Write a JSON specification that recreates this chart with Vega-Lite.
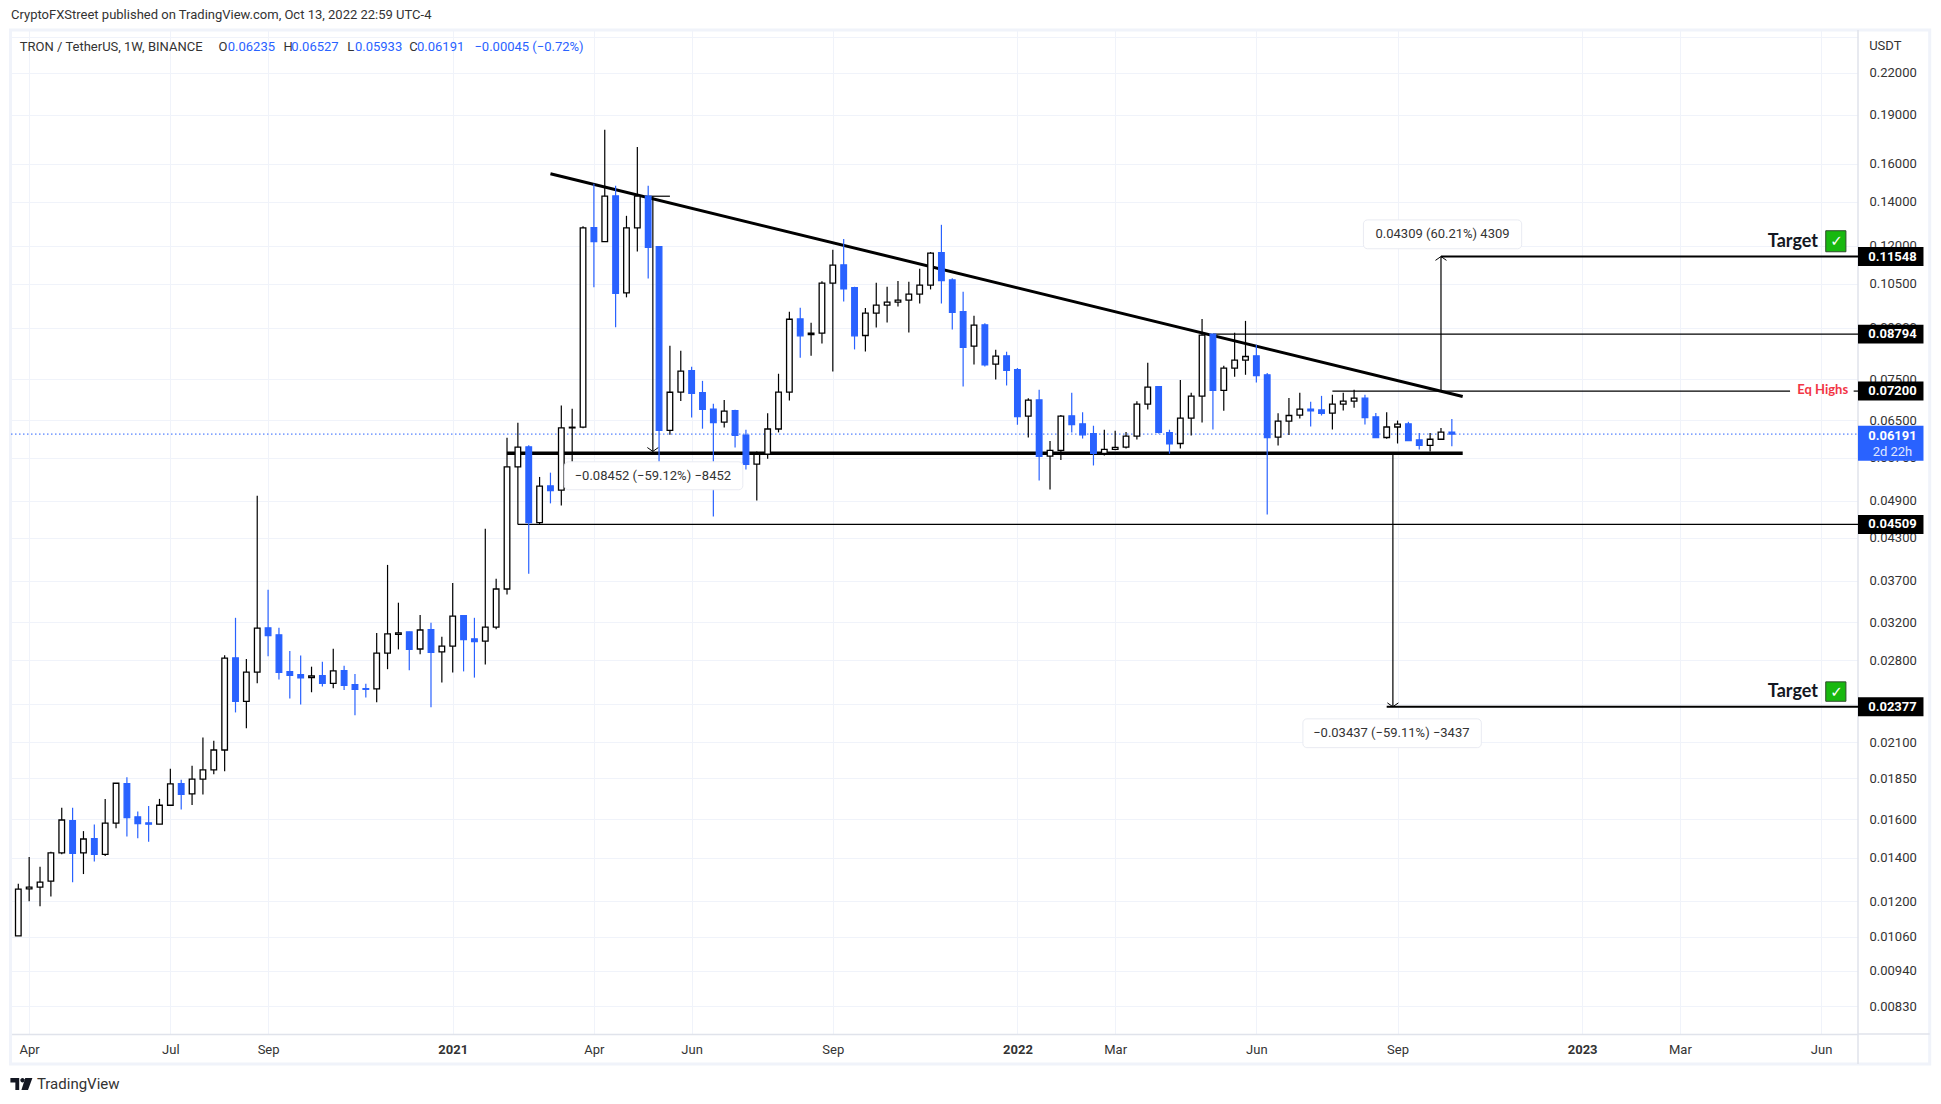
{"$schema":"https://vega.github.io/schema/vega-lite/v6.json","width":1847,"height":1004,"autosize":{"type":"none"},"padding":{"left":11,"top":30,"right":83,"bottom":70},"background":"#ffffff","config":{"view":{"stroke":null},"font":"Roboto"},
"title":{"text":"CryptoFXStreet published on TradingView.com, Oct 13, 2022 22:59 UTC-4","anchor":"start","frame":"group","offset":7,"fontSize":13,"fontWeight":"normal","font":"Roboto","color":"#333333"},
"datasets":{"candles":[
{"x":"2020-03-30","o":0.01063,"h":0.01277,"l":0.01063,"c":0.01253},{"x":"2020-04-06","o":0.01254,"h":0.01403,"l":0.01201,"c":0.01262},{"x":"2020-04-13","o":0.01262,"h":0.01355,"l":0.0118,"c":0.01284},{"x":"2020-04-20","o":0.01289,"h":0.01429,"l":0.01221,"c":0.01423},{"x":"2020-04-27","o":0.01423,"h":0.01668,"l":0.01416,"c":0.01597},{"x":"2020-05-04","o":0.01593,"h":0.01668,"l":0.01283,"c":0.01421},{"x":"2020-05-11","o":0.01423,"h":0.01536,"l":0.01321,"c":0.01494},{"x":"2020-05-18","o":0.01496,"h":0.01572,"l":0.01381,"c":0.01416},{"x":"2020-05-25","o":0.01416,"h":0.0172,"l":0.01407,"c":0.0158},{"x":"2020-06-01","o":0.0158,"h":0.01817,"l":0.01552,"c":0.01817},{"x":"2020-06-08","o":0.01815,"h":0.01856,"l":0.01507,"c":0.01611},{"x":"2020-06-15","o":0.01615,"h":0.01645,"l":0.01498,"c":0.01577},{"x":"2020-06-22","o":0.01581,"h":0.01678,"l":0.0148,"c":0.01574},{"x":"2020-06-29","o":0.01574,"h":0.0172,"l":0.01574,"c":0.01682},{"x":"2020-07-06","o":0.01682,"h":0.01912,"l":0.01682,"c":0.01813},{"x":"2020-07-13","o":0.01815,"h":0.0184,"l":0.01657,"c":0.01747},{"x":"2020-07-20","o":0.0175,"h":0.01933,"l":0.01684,"c":0.01844},{"x":"2020-07-27","o":0.01844,"h":0.02133,"l":0.01747,"c":0.01905},{"x":"2020-08-03","o":0.01905,"h":0.02109,"l":0.01876,"c":0.02042},{"x":"2020-08-10","o":0.02042,"h":0.02848,"l":0.01895,"c":0.02819},{"x":"2020-08-17","o":0.02822,"h":0.03248,"l":0.0233,"c":0.02423},{"x":"2020-08-24","o":0.02423,"h":0.0281,"l":0.02205,"c":0.02684},{"x":"2020-08-31","o":0.02684,"h":0.04985,"l":0.02581,"c":0.03132},{"x":"2020-09-07","o":0.03136,"h":0.03585,"l":0.02838,"c":0.03052},{"x":"2020-09-14","o":0.0306,"h":0.03136,"l":0.02616,"c":0.02681},{"x":"2020-09-21","o":0.02688,"h":0.02892,"l":0.02447,"c":0.02654},{"x":"2020-09-28","o":0.0266,"h":0.02845,"l":0.02395,"c":0.0263},{"x":"2020-10-05","o":0.02633,"h":0.02736,"l":0.02501,"c":0.02648},{"x":"2020-10-12","o":0.0265,"h":0.02784,"l":0.02552,"c":0.02581},{"x":"2020-10-19","o":0.02581,"h":0.02914,"l":0.02536,"c":0.02695},{"x":"2020-10-26","o":0.02698,"h":0.02746,"l":0.0252,"c":0.02562},{"x":"2020-11-02","o":0.02568,"h":0.02667,"l":0.02307,"c":0.02527},{"x":"2020-11-09","o":0.02533,"h":0.02577,"l":0.02456,"c":0.02527},{"x":"2020-11-16","o":0.0253,"h":0.0308,"l":0.02414,"c":0.0287},{"x":"2020-11-23","o":0.0287,"h":0.03911,"l":0.02712,"c":0.0307},{"x":"2020-11-30","o":0.03065,"h":0.03425,"l":0.02907,"c":0.0308},{"x":"2020-12-07","o":0.03092,"h":0.03092,"l":0.02701,"c":0.02907},{"x":"2020-12-14","o":0.02911,"h":0.03281,"l":0.02857,"c":0.03112},{"x":"2020-12-21","o":0.03116,"h":0.03191,"l":0.02372,"c":0.02877},{"x":"2020-12-28","o":0.02881,"h":0.03038,"l":0.02587,"c":0.0294},{"x":"2021-01-04","o":0.0294,"h":0.0367,"l":0.02681,"c":0.03268},{"x":"2021-01-11","o":0.03273,"h":0.03273,"l":0.02691,"c":0.0301},{"x":"2021-01-18","o":0.03017,"h":0.03248,"l":0.02633,"c":0.02987},{"x":"2021-01-25","o":0.02992,"h":0.04441,"l":0.02757,"c":0.03144},{"x":"2021-02-01","o":0.03144,"h":0.03727,"l":0.0312,"c":0.03594},{"x":"2021-02-08","o":0.03594,"h":0.06112,"l":0.03526,"c":0.05519},{"x":"2021-02-15","o":0.05519,"h":0.06443,"l":0.04509,"c":0.05912},{"x":"2021-02-22","o":0.0592,"h":0.05955,"l":0.03792,"c":0.04536},{"x":"2021-03-01","o":0.04536,"h":0.05326,"l":0.04503,"c":0.05156},{"x":"2021-03-08","o":0.05162,"h":0.05407,"l":0.04854,"c":0.05079},{"x":"2021-03-15","o":0.05085,"h":0.06845,"l":0.04819,"c":0.06327},{"x":"2021-03-22","o":0.06327,"h":0.06769,"l":0.05271,"c":0.06342},{"x":"2021-03-29","o":0.06342,"h":0.12846,"l":0.06318,"c":0.12766},{"x":"2021-04-05","o":0.12779,"h":0.14911,"l":0.10367,"c":0.12166},{"x":"2021-04-12","o":0.12166,"h":0.18022,"l":0.12166,"c":0.14271},{"x":"2021-04-19","o":0.14287,"h":0.14804,"l":0.09009,"c":0.10147},{"x":"2021-04-26","o":0.10162,"h":0.13322,"l":0.10006,"c":0.12766},{"x":"2021-05-03","o":0.12766,"h":0.1697,"l":0.11751,"c":0.14271},{"x":"2021-05-10","o":0.14271,"h":0.14804,"l":0.10687,"c":0.1193},{"x":"2021-05-17","o":0.11959,"h":0.11975,"l":0.05367,"c":0.06272},{"x":"2021-05-24","o":0.06272,"h":0.08442,"l":0.06176,"c":0.0717},{"x":"2021-05-31","o":0.07175,"h":0.08296,"l":0.06956,"c":0.07725},{"x":"2021-06-07","o":0.07733,"h":0.07842,"l":0.06561,"c":0.0714},{"x":"2021-06-14","o":0.07158,"h":0.07463,"l":0.06309,"c":0.0675},{"x":"2021-06-21","o":0.0676,"h":0.06885,"l":0.04635,"c":0.06448},{"x":"2021-06-28","o":0.06456,"h":0.0698,"l":0.06338,"c":0.06713},{"x":"2021-07-05","o":0.0672,"h":0.06744,"l":0.05908,"c":0.06161},{"x":"2021-07-12","o":0.06169,"h":0.06287,"l":0.05469,"c":0.05565},{"x":"2021-07-19","o":0.05572,"h":0.05826,"l":0.04902,"c":0.05764},{"x":"2021-07-26","o":0.05772,"h":0.06661,"l":0.05675,"c":0.06302},{"x":"2021-08-02","o":0.06302,"h":0.07652,"l":0.06228,"c":0.07175},{"x":"2021-08-09","o":0.07175,"h":0.09513,"l":0.06963,"c":0.09266},{"x":"2021-08-16","o":0.09275,"h":0.09647,"l":0.08096,"c":0.08742},{"x":"2021-08-23","o":0.08782,"h":0.0915,"l":0.0815,"c":0.08826},{"x":"2021-08-30","o":0.08826,"h":0.1059,"l":0.08509,"c":0.10518},{"x":"2021-09-06","o":0.10518,"h":0.11826,"l":0.07714,"c":0.11206},{"x":"2021-09-13","o":0.11217,"h":0.12286,"l":0.09859,"c":0.10313},{"x":"2021-09-20","o":0.10349,"h":0.10385,"l":0.08334,"c":0.08742},{"x":"2021-09-27","o":0.08751,"h":0.09637,"l":0.08275,"c":0.09469},{"x":"2021-10-04","o":0.09469,"h":0.10529,"l":0.09003,"c":0.09738},{"x":"2021-10-11","o":0.09738,"h":0.10385,"l":0.09159,"c":0.09839},{"x":"2021-10-18","o":0.09839,"h":0.10601,"l":0.09691,"c":0.09906},{"x":"2021-10-25","o":0.09906,"h":0.10565,"l":0.08846,"c":0.10122},{"x":"2021-11-01","o":0.10122,"h":0.11063,"l":0.09792,"c":0.10446},{"x":"2021-11-08","o":0.10446,"h":0.11731,"l":0.10288,"c":0.11689},{"x":"2021-11-15","o":0.11702,"h":0.12908,"l":0.09792,"c":0.10612},{"x":"2021-11-22","o":0.10637,"h":0.10703,"l":0.0894,"c":0.09489},{"x":"2021-11-29","o":0.09513,"h":0.10205,"l":0.07318,"c":0.08392},{"x":"2021-12-06","o":0.08433,"h":0.09378,"l":0.07905,"c":0.09078},{"x":"2021-12-13","o":0.09087,"h":0.0914,"l":0.07851,"c":0.07897},{"x":"2021-12-20","o":0.07916,"h":0.08325,"l":0.07496,"c":0.08141},{"x":"2021-12-27","o":0.0815,"h":0.08267,"l":0.07343,"c":0.07741},{"x":"2022-01-03","o":0.07761,"h":0.07807,"l":0.06397,"c":0.06585},{"x":"2022-01-10","o":0.06594,"h":0.07023,"l":0.06117,"c":0.06973},{"x":"2022-01-17","o":0.0698,"h":0.07234,"l":0.05259,"c":0.05723},{"x":"2022-01-24","o":0.05731,"h":0.06045,"l":0.05097,"c":0.05847},{"x":"2022-01-31","o":0.05847,"h":0.06618,"l":0.05655,"c":0.06594},{"x":"2022-02-07","o":0.06601,"h":0.07158,"l":0.06228,"c":0.06403},{"x":"2022-02-14","o":0.06419,"h":0.06684,"l":0.06095,"c":0.06176},{"x":"2022-02-21","o":0.06198,"h":0.06375,"l":0.05545,"c":0.05784},{"x":"2022-02-28","o":0.05784,"h":0.06287,"l":0.05743,"c":0.05867},{"x":"2022-03-07","o":0.05867,"h":0.06265,"l":0.05847,"c":0.05908},{"x":"2022-03-14","o":0.05916,"h":0.06236,"l":0.05888,"c":0.06147},{"x":"2022-03-21","o":0.06147,"h":0.06949,"l":0.06073,"c":0.06878},{"x":"2022-03-28","o":0.06878,"h":0.07951,"l":0.0675,"c":0.07303},{"x":"2022-04-04","o":0.0731,"h":0.0731,"l":0.06206,"c":0.06228},{"x":"2022-04-11","o":0.06221,"h":0.06287,"l":0.05778,"c":0.05984},{"x":"2022-04-18","o":0.0599,"h":0.07488,"l":0.05888,"c":0.06547},{"x":"2022-04-25","o":0.06547,"h":0.07158,"l":0.06161,"c":0.07074},{"x":"2022-05-02","o":0.07074,"h":0.09275,"l":0.06448,"c":0.08764},{"x":"2022-05-09","o":0.08794,"h":0.08803,"l":0.06293,"c":0.07216},{"x":"2022-05-16","o":0.07216,"h":0.07869,"l":0.0672,"c":0.07807},{"x":"2022-05-23","o":0.07807,"h":0.08837,"l":0.07572,"c":0.08025},{"x":"2022-05-30","o":0.08025,"h":0.09212,"l":0.07624,"c":0.0813},{"x":"2022-06-06","o":0.0815,"h":0.08471,"l":0.07419,"c":0.07605},{"x":"2022-06-13","o":0.07624,"h":0.0767,"l":0.0467,"c":0.06117},{"x":"2022-06-20","o":0.06126,"h":0.06661,"l":0.05949,"c":0.06478},{"x":"2022-06-27","o":0.06478,"h":0.0703,"l":0.06169,"c":0.06609},{"x":"2022-07-04","o":0.06618,"h":0.07158,"l":0.06538,"c":0.0676},{"x":"2022-07-11","o":0.0676,"h":0.06933,"l":0.0636,"c":0.0672},{"x":"2022-07-18","o":0.06737,"h":0.0708,"l":0.06609,"c":0.06656},{"x":"2022-07-25","o":0.06665,"h":0.0711,"l":0.06293,"c":0.06878},{"x":"2022-08-01","o":0.06878,"h":0.07158,"l":0.06727,"c":0.06949},{"x":"2022-08-08","o":0.06949,"h":0.07234,"l":0.06791,"c":0.07023},{"x":"2022-08-15","o":0.07023,"h":0.07108,"l":0.06403,"c":0.06561},{"x":"2022-08-22","o":0.06578,"h":0.06665,"l":0.0611,"c":0.06117},{"x":"2022-08-29","o":0.06117,"h":0.06684,"l":0.06088,"c":0.06347},{"x":"2022-09-05","o":0.06347,"h":0.06492,"l":0.0599,"c":0.06412},{"x":"2022-09-12","o":0.06419,"h":0.06463,"l":0.06045,"c":0.06052},{"x":"2022-09-19","o":0.06066,"h":0.06213,"l":0.05867,"c":0.05949},{"x":"2022-09-26","o":0.05949,"h":0.06213,"l":0.05826,"c":0.0608},{"x":"2022-10-03","o":0.0608,"h":0.06323,"l":0.0608,"c":0.06235},{"x":"2022-10-10","o":0.06235,"h":0.06527,"l":0.05933,"c":0.06191}
]},
"encoding":{
"x":{"field":"x","type":"temporal","title":null,"scale":{"type":"utc","padding":0,"domain":["2020-03-25T07:00:00Z","2023-06-28T19:00:00Z"]},"axis":{"values":["2020-04-06","2020-07-06","2020-09-07","2021-01-04","2021-04-05","2021-06-07","2021-09-06","2022-01-03","2022-03-07","2022-06-06","2022-09-05","2023-01-02","2023-03-06","2023-06-05"],"labelExpr":"utcmonth(datum.value)==0?utcFormat(datum.value,'%Y'):utcFormat(datum.value,'%b')","grid":true,"gridColor":"#f0f3fa","gridWidth":1,"domainColor":"#e0e3eb","domainWidth":1.5,"tickSize":0,"labelPadding":9,"labelFontSize":13,"labelFont":"Roboto","labelColor":"#333333","labelFontWeight":{"condition":{"test":"utcmonth(datum.value)==0","value":"bold"},"value":"normal"},"labelOverlap":false,"labelFlush":false,"zindex":0}},
"y":{"field":"p","type":"quantitative","title":null,"scale":{"type":"log","domain":[0.007534,0.2558],"nice":false},"axis":{"orient":"right","values":[0.25,0.22,0.19,0.16,0.14,0.12,0.105,0.09,0.075,0.065,0.057,0.049,0.043,0.037,0.032,0.028,0.024,0.021,0.0185,0.016,0.014,0.012,0.0106,0.0094,0.0083],"labelExpr":"datum.value==0.25?'':format(datum.value,'.5f')","grid":true,"gridColor":"#f0f3fa","gridWidth":1,"domain":false,"tickSize":0,"labelPadding":11,"labelFontSize":13,"labelFont":"Roboto","labelColor":"#333333","labelOverlap":false,"labelBound":false,"zindex":0}}
},
"layer":[
{"data":{"values":[{"x":"2020-03-25","x2":"2023-08-14","p":0.2558,"p2":0.00678}],"format":{"parse":{"x":"date","x2":"date"}}},"mark":{"type":"rect","fill":"transparent","stroke":"#f0f3fa","strokeWidth":3},"encoding":{"x2":{"field":"x2"},"y2":{"field":"p2"}}},
{"data":{"values":[{"x":"2023-06-28T19:00:00Z","p":0.2558,"p2":0.00678}],"format":{"parse":{"x":"date"}}},"mark":{"type":"rule","stroke":"#e0e3eb","strokeWidth":1.5},"encoding":{"y2":{"field":"p2"}}},
{"data":{"values":[{"x":"2023-06-28T19:00:00Z","x2":"2023-08-14","p":0.007534}],"format":{"parse":{"x":"date","x2":"date"}}},"mark":{"type":"rule","stroke":"#e0e3eb","strokeWidth":1.5},"encoding":{"x2":{"field":"x2"}}},
{"data":{"values":[{"x":"2020-03-25T07:00:00Z","x2":"2023-06-28T19:00:00Z","p":0.06191}],"format":{"parse":{"x":"date","x2":"date"}}},"mark":{"type":"rule","stroke":"#2962ff","strokeWidth":1,"strokeDash":[1.5,2.5]},"encoding":{"x2":{"field":"x2"}}},
{"data":{"values":[{"x":"2021-03-08","x2":"2022-10-17","p":0.1544,"p2":0.07064}],"format":{"parse":{"x":"date","x2":"date"}}},"mark":{"type":"rule","stroke":"#000000","strokeWidth":3},"encoding":{"x2":{"field":"x2"},"y2":{"field":"p2"}}},
{"data":{"values":[{"x":"2021-02-08","x2":"2022-10-17","p":0.05789}],"format":{"parse":{"x":"date","x2":"date"}}},"mark":{"type":"rule","stroke":"#000000","strokeWidth":3.4},"encoding":{"x2":{"field":"x2"}}},
{"data":{"values":[{"x":"2022-10-03","x2":"2023-06-28T19:00:00Z","p":0.11548},{"x":"2022-08-29","x2":"2023-06-28T19:00:00Z","p":0.02377}],"format":{"parse":{"x":"date","x2":"date"}}},"mark":{"type":"rule","stroke":"#000000","strokeWidth":2.2},"encoding":{"x2":{"field":"x2"}}},
{"data":{"values":[{"x":"2021-02-15","x2":"2023-06-28T19:00:00Z","p":0.04509},{"x":"2022-05-09","x2":"2023-06-28T19:00:00Z","p":0.08794},{"x":"2022-07-25","x2":"2023-05-16","p":0.072},{"x":"2023-06-26","x2":"2023-06-28T19:00:00Z","p":0.072},{"x":"2021-05-08","x2":"2021-05-24","p":0.14271}],"format":{"parse":{"x":"date","x2":"date"}}},"mark":{"type":"rule","stroke":"#000000","strokeWidth":1.2},"encoding":{"x2":{"field":"x2"}}},
{"data":{"values":[{"x":"2021-05-13","p":0.14271,"p2":0.05826},{"x":"2022-10-03","p":0.072,"p2":0.11548},{"x":"2022-09-02","p":0.05789,"p2":0.02377}],"format":{"parse":{"x":"date"}}},"mark":{"type":"rule","stroke":"#000000","strokeWidth":1.2},"encoding":{"y2":{"field":"p2"}}},
{"data":{"values":[{"x":"2021-05-13","p":0.05826},{"x":"2022-09-02","p":0.02377}],"format":{"parse":{"x":"date"}}},"mark":{"type":"point","shape":"M-1,-0.7L0,0L1,-0.7","filled":false,"stroke":"#000000","strokeWidth":1,"size":121,"opacity":1}},
{"data":{"values":[{"x":"2022-10-03","p":0.11548}],"format":{"parse":{"x":"date"}}},"mark":{"type":"point","shape":"M-1,0.7L0,0L1,0.7","filled":false,"stroke":"#000000","strokeWidth":1,"size":121,"opacity":1}},
{"data":{"name":"candles"},"mark":{"type":"rule","strokeWidth":1.2},"encoding":{"y":{"field":"l","type":"quantitative","title":null},"y2":{"field":"h"},"color":{"condition":{"test":"datum.c>=datum.o","value":"#000000"},"value":"#2962ff"}}},
{"data":{"name":"candles"},"mark":{"type":"bar","size":5.6,"strokeWidth":1.3},"encoding":{"y":{"field":"o","type":"quantitative","title":null},"y2":{"field":"c"},"fill":{"condition":{"test":"datum.c>=datum.o","value":"#ffffff"},"value":"#2962ff"},"stroke":{"condition":{"test":"datum.c>=datum.o","value":"#000000"},"value":"#2962ff"}}},
{"data":{"values":[{"x":"2022-08-14","x2":"2022-11-24","p":0.13131,"p2":0.11867},{"x":"2021-03-17","x2":"2021-07-10","p":0.05617,"p2":0.05092},{"x":"2022-07-06","x2":"2022-10-29","p":0.02278,"p2":0.02059}],"format":{"parse":{"x":"date","x2":"date"}}},"mark":{"type":"rect","fill":"#ffffff","stroke":"#e9ebf2","strokeWidth":1,"cornerRadius":4},"encoding":{"x2":{"field":"x2"},"y2":{"field":"p2"}}},
{"data":{"values":[{"x":"2022-10-04","p":0.12508,"t":"0.04309 (60.21%) 4309"},{"x":"2021-05-13","p":0.05348,"t":"−0.08452 (−59.12%) −8452"},{"x":"2022-09-01","p":0.02166,"t":"−0.03437 (−59.11%) −3437"}]},"mark":{"type":"text","font":"Roboto","fontSize":13,"color":"#333333","align":"center","baseline":"middle"},"encoding":{"text":{"field":"t"}}},
{"data":{"values":[{"x":"2023-06-28T19:00:00Z","x2":"2023-08-10","p":0.1194,"p2":0.11169},{"x":"2023-06-28T19:00:00Z","x2":"2023-08-10","p":0.09092,"p2":0.08506},{"x":"2023-06-28T19:00:00Z","x2":"2023-08-10","p":0.07444,"p2":0.06964},{"x":"2023-06-28T19:00:00Z","x2":"2023-08-10","p":0.04662,"p2":0.04361},{"x":"2023-06-28T19:00:00Z","x2":"2023-08-10","p":0.02458,"p2":0.02299}],"format":{"parse":{"x":"date","x2":"date"}}},"mark":{"type":"rect","fill":"#000000"},"encoding":{"x2":{"field":"x2"},"y2":{"field":"p2"}}},
{"data":{"values":[{"x":"2023-06-28T19:00:00Z","x2":"2023-08-10","p":0.06375,"p2":0.05636}],"format":{"parse":{"x":"date","x2":"date"}}},"mark":{"type":"rect","fill":"#2962ff"},"encoding":{"x2":{"field":"x2"},"y2":{"field":"p2"}}},
{"data":{"values":[{"x":"2023-07-21","p":0.11548,"t":"0.11548"},{"x":"2023-07-21","p":0.08794,"t":"0.08794"},{"x":"2023-07-21","p":0.072,"t":"0.07200"},{"x":"2023-07-21","p":0.04509,"t":"0.04509"},{"x":"2023-07-21","p":0.02377,"t":"0.02377"},{"x":"2023-07-21","p":0.06146,"t":"0.06191"}]},"mark":{"type":"text","font":"Roboto","fontSize":13,"fontWeight":"bold","color":"#ffffff","align":"center","baseline":"middle"},"encoding":{"text":{"field":"t"}}},
{"data":{"values":[{"x":"2023-07-21","p":0.05809,"t":"2d 22h"}]},"mark":{"type":"text","font":"Roboto","fontSize":13,"color":"#ffffff","opacity":0.85,"align":"center","baseline":"middle"},"encoding":{"text":{"field":"t"}}},
{"data":{"values":[{"x":"2023-07-06","p":0.2419,"t":"USDT"}]},"mark":{"type":"text","font":"Roboto","fontSize":13,"color":"#333333","align":"left","baseline":"middle"},"encoding":{"text":{"field":"t"}}},
{"data":{"values":[{"x":"2023-06-06","p":0.0722,"t":"Eq Highs"}]},"mark":{"type":"text","font":"Lato","fontSize":13,"fontWeight":"bold","color":"#f23645","align":"center","baseline":"middle"},"encoding":{"text":{"field":"t"}}},
{"data":{"values":[{"x":"2023-06-03","p":0.12158,"t":"Target"},{"x":"2023-06-03","p":0.02506,"t":"Target"}]},"mark":{"type":"text","font":"Lato","fontSize":18,"fontWeight":"bold","color":"#131722","align":"right","baseline":"middle"},"encoding":{"text":{"field":"t"}}},
{"data":{"values":[{"x":"2023-06-08","x2":"2023-06-21","p":0.12642,"p2":0.11743},{"x":"2023-06-08","x2":"2023-06-21","p":0.02594,"p2":0.02423}],"format":{"parse":{"x":"date","x2":"date"}}},"mark":{"type":"rect","fill":"#18b80f","stroke":"#2e4d2b","strokeWidth":1},"encoding":{"x2":{"field":"x2"},"y2":{"field":"p2"}}},
{"data":{"values":[{"x":"2023-06-15","p":0.1218,"t":"✓"},{"x":"2023-06-15","p":0.02506,"t":"✓"}]},"mark":{"type":"text","font":"DejaVu Sans","fontSize":15,"fontWeight":"bold","color":"#ffffff","align":"center","baseline":"middle"},"encoding":{"text":{"field":"t"}}},
{"data":{"values":[{"x":"2020-03-31","p":0.2406,"t":"TRON / TetherUS, 1W, BINANCE"},{"x":"2020-08-06","p":0.2406,"t":"O"},{"x":"2020-09-17","p":0.2406,"t":"H"},{"x":"2020-10-28","p":0.2406,"t":"L"},{"x":"2020-12-07","p":0.2406,"t":"C"}]},"mark":{"type":"text","font":"Roboto","fontSize":13,"color":"#333333","align":"left","baseline":"middle"},"encoding":{"text":{"field":"t"}}},
{"data":{"values":[{"x":"2020-08-12","p":0.2406,"t":"0.06235"},{"x":"2020-09-22","p":0.2406,"t":"0.06527"},{"x":"2020-11-02","p":0.2406,"t":"0.05933"},{"x":"2020-12-12","p":0.2406,"t":"0.06191"},{"x":"2021-01-18","p":0.2406,"t":"−0.00045 (−0.72%)"}]},"mark":{"type":"text","font":"Roboto","fontSize":13,"color":"#2962ff","align":"left","baseline":"middle"},"encoding":{"text":{"field":"t"}}},
{"data":{"values":[{"x":"2020-04-01","p":0.00632}],"format":{"parse":{"x":"date"}}},"mark":{"type":"point","shape":"M-1,-0.55L-0.2,-0.55L-0.2,0.55L-0.55,0.55L-0.55,-0.15L-1,-0.15ZM0.35,-0.55L1,-0.55L0.6,0.55L0,0.55ZM-0.1,-0.35a0.2,0.2 0 1,0 0.4,0a0.2,0.2 0 1,0 -0.4,0Z","filled":true,"fill":"#131722","stroke":null,"size":484,"opacity":1}},
{"data":{"values":[{"x":"2020-04-11","p":0.00632,"t":"TradingView"}]},"mark":{"type":"text","font":"Roboto","fontSize":15,"color":"#333333","align":"left","baseline":"middle"},"encoding":{"text":{"field":"t"}}}
]}
